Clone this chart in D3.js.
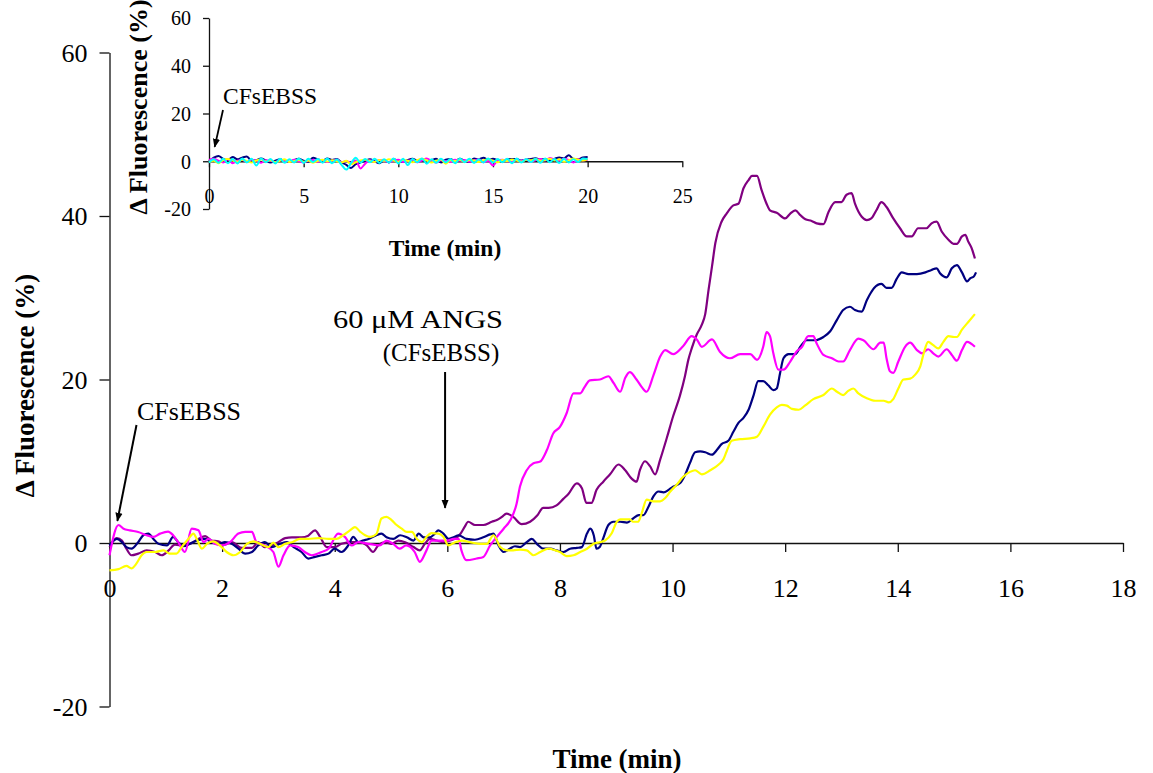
<!DOCTYPE html>
<html>
<head>
<meta charset="utf-8">
<script src="https://cdn.jsdelivr.net/npm/d3@7"></script>
<style>
  html, body { margin: 0; padding: 0; background: #fff; }
  svg { display: block; }
  text { font-family: "Liberation Serif", "Times New Roman", serif; fill: #000; }
</style>
</head>
<body>
<svg id="chart" width="1153" height="773"></svg>
<script>
// ---- Main panel: ΔFluorescence (%) vs time (min), [time, value] readings per trace ----
const purpleTrace = [[0,-0.5],[0.13,0.6],[0.22,0.3],[0.3,-0.7],[0.39,-1.5],[0.51,-1.3],[0.66,-0.9],[0.81,-1.1],[0.93,-1.5],[1.05,-0.9],[1.16,-0.2],[1.31,-0.3],[1.43,-0.1],[1.58,0.5],[1.7,0.85],[1.81,0.3],[1.93,0.2],[2.05,-0.2],[2.17,0.1],[2.35,-0.6],[2.53,-0.6],[2.64,0.1],[2.76,-0.5],[2.88,-0.3],[3.0,0.1],[3.12,0.6],[3.24,0.7],[3.41,0.7],[3.53,0.9],[3.65,1.55],[3.74,0.75],[3.86,-0.5],[4.0,-0.5],[4.12,-0.1],[4.3,0.1],[4.45,0.1],[4.57,-0.3],[4.68,-1.1],[4.77,-0.3],[4.89,0.1],[5.01,-0.1],[5.13,0.3],[5.25,0.1],[5.4,-0.5],[5.51,-0.9],[5.6,-0.1],[5.69,0.5],[5.81,0.3],[5.93,0.1],[6.05,0.3],[6.17,0.7],[6.23,1.1],[6.31,2.0],[6.37,2.6],[6.49,2.2],[6.64,2.2],[6.79,2.6],[6.88,2.8],[6.97,3.2],[7.05,3.6],[7.17,3.2],[7.32,2.3],[7.47,2.6],[7.6,3.4],[7.7,4.3],[7.8,4.3],[7.94,4.6],[8.06,5.4],[8.15,6.0],[8.3,7.3],[8.39,6.7],[8.47,4.9],[8.56,4.9],[8.65,6.5],[8.77,7.5],[8.89,8.4],[9.04,9.6],[9.16,8.9],[9.27,7.9],[9.36,7.5],[9.42,8.9],[9.51,10.0],[9.6,9.4],[9.69,8.4],[9.78,10.2],[9.9,12.9],[10.01,15.5],[10.13,18.0],[10.22,20.4],[10.28,22.4],[10.34,23.8],[10.43,25.5],[10.52,26.7],[10.58,28.0],[10.64,31.0],[10.7,33.8],[10.76,36.7],[10.87,39.3],[10.96,40.3],[11.08,41.3],[11.17,41.5],[11.26,43.4],[11.35,44.4],[11.41,44.9],[11.5,44.9],[11.58,43.2],[11.67,41.5],[11.73,40.7],[11.85,40.4],[12.0,39.7],[12.09,40.3],[12.18,40.7],[12.27,40.1],[12.36,39.6],[12.47,39.4],[12.56,39.1],[12.68,39.0],[12.77,40.5],[12.89,41.7],[13.0,41.7],[13.09,42.6],[13.18,42.8],[13.24,41.5],[13.36,39.9],[13.45,39.5],[13.53,39.7],[13.62,40.7],[13.71,41.7],[13.8,41.1],[13.92,39.7],[14.04,38.5],[14.16,37.5],[14.25,37.5],[14.36,38.5],[14.51,38.5],[14.6,39.1],[14.69,39.3],[14.78,38.1],[14.9,37.1],[14.99,36.6],[15.05,36.6],[15.14,37.5],[15.2,37.7],[15.25,36.9],[15.31,36.1],[15.37,34.8]];

const navyTrace = [[0,-0.3],[0.13,0.5],[0.22,0.1],[0.3,-0.5],[0.39,-0.7],[0.51,0.1],[0.6,0.95],[0.69,1.15],[0.78,0.5],[0.87,-0.1],[1.02,-0.3],[1.13,0.75],[1.22,0.1],[1.31,-0.4],[1.43,-0.1],[1.55,0.3],[1.7,0.5],[1.81,0.1],[1.93,-0.1],[2.05,0.1],[2.17,-0.1],[2.29,-0.7],[2.41,-1.3],[2.53,-1.1],[2.64,-0.3],[2.76,0.1],[2.88,-0.5],[3.03,-0.1],[3.15,0.1],[3.27,-0.5],[3.41,-1.1],[3.53,-1.9],[3.65,-1.7],[3.77,-1.5],[3.89,-1.3],[4.0,-0.7],[4.12,-1.1],[4.24,-0.3],[4.33,0.75],[4.42,0.1],[4.5,0.3],[4.6,0.5],[4.74,0.95],[4.83,1.15],[4.92,0.7],[5.04,0.5],[5.16,0.95],[5.28,0.7],[5.4,0.3],[5.49,1.15],[5.58,0.7],[5.69,0.7],[5.78,1.15],[5.84,1.55],[5.93,1.15],[6.02,0.5],[6.11,0.7],[6.2,0.95],[6.34,0.5],[6.49,0.4],[6.64,0.7],[6.76,1.05],[6.82,1.15],[6.91,-0.3],[7.0,-1.1],[7.11,-0.7],[7.2,-0.4],[7.29,-0.5],[7.41,0.1],[7.5,0.5],[7.59,-0.1],[7.71,-0.7],[7.83,-0.7],[7.94,-0.9],[8.06,-1.1],[8.18,-0.7],[8.3,-0.6],[8.39,-0.5],[8.48,1.15],[8.54,1.75],[8.6,0.95],[8.65,-0.7],[8.71,-0.45],[8.77,0.6],[8.86,2.2],[8.95,2.6],[9.07,2.6],[9.19,2.5],[9.3,3.0],[9.4,3.4],[9.48,3.4],[9.57,4.4],[9.66,5.7],[9.75,6.3],[9.84,6.2],[9.93,6.5],[10.01,6.9],[10.13,7.3],[10.22,8.3],[10.31,9.8],[10.4,11.1],[10.49,11.2],[10.58,11.1],[10.7,10.8],[10.79,11.4],[10.87,12.1],[10.99,12.5],[11.08,13.6],[11.17,14.7],[11.26,15.3],[11.35,16.3],[11.44,18.1],[11.52,19.8],[11.61,19.8],[11.7,19.3],[11.79,18.7],[11.85,18.9],[11.91,20.8],[11.97,22.6],[12.06,23.1],[12.18,23.1],[12.27,24.0],[12.38,24.8],[12.53,24.8],[12.68,25.2],[12.8,25.9],[12.92,27.3],[13.03,28.5],[13.15,28.9],[13.24,28.5],[13.36,28.3],[13.45,29.7],[13.53,30.7],[13.58,31.2],[13.71,31.7],[13.8,31.2],[13.89,31.2],[13.98,32.3],[14.07,33.1],[14.19,32.9],[14.34,32.9],[14.49,33.1],[14.6,33.4],[14.69,33.6],[14.75,33.0],[14.87,32.5],[14.96,33.6],[15.05,34.0],[15.14,33.1],[15.23,32.0],[15.29,32.4],[15.35,32.6],[15.39,33.1]];

const magentaTrace = [[0,-1.5],[0.16,2.2],[0.25,1.75],[0.36,1.55],[0.51,1.35],[0.66,0.95],[0.78,0.75],[0.9,1.15],[1.04,1.4],[1.13,0.95],[1.22,0.1],[1.34,-1.1],[1.46,1.75],[1.58,1.55],[1.67,0.1],[1.76,0.5],[1.87,-0.1],[1.99,-0.3],[2.14,0.1],[2.29,1.15],[2.41,1.35],[2.53,1.35],[2.61,0.1],[2.76,-0.3],[2.91,-1.1],[3.0,-2.9],[3.09,-1.5],[3.21,-0.3],[3.35,-0.5],[3.47,-1.1],[3.59,-1.5],[3.77,-1.1],[3.89,-0.7],[4.06,1.15],[4.18,0.75],[4.3,-0.3],[4.42,0.1],[4.6,-0.1],[4.8,-0.3],[4.92,0.3],[5.04,-0.1],[5.15,-0.7],[5.27,-0.3],[5.42,-1.1],[5.51,-2.3],[5.63,-0.9],[5.72,0.3],[5.87,0.3],[6.0,0.3],[6.11,0.5],[6.2,0.5],[6.25,-0.9],[6.34,-2.1],[6.52,-1.9],[6.64,-1.7],[6.76,-0.3],[6.88,0.75],[7.0,1.75],[7.12,2.8],[7.23,4.8],[7.29,6.9],[7.41,8.9],[7.53,9.75],[7.65,9.96],[7.77,11.4],[7.88,13.4],[8.0,14.2],[8.12,15.9],[8.24,18.3],[8.36,18.3],[8.44,19.1],[8.53,19.9],[8.71,20.0],[8.86,20.4],[8.95,19.6],[9.07,18.5],[9.16,20.2],[9.24,20.9],[9.36,20.0],[9.45,19.1],[9.54,18.5],[9.66,20.5],[9.78,22.8],[9.87,23.6],[10.01,23.1],[10.19,24.1],[10.34,25.3],[10.43,24.9],[10.52,24.0],[10.7,24.9],[10.84,23.4],[11.02,22.6],[11.2,23.1],[11.38,23.1],[11.5,22.4],[11.61,24.0],[11.67,25.8],[11.73,25.3],[11.79,23.2],[11.88,21.2],[11.97,21.2],[12.09,22.2],[12.2,23.4],[12.3,24.0],[12.41,25.3],[12.5,25.3],[12.56,24.4],[12.68,23.0],[12.83,22.6],[12.95,22.2],[13.03,22.2],[13.15,23.6],[13.3,25.0],[13.39,24.8],[13.57,23.7],[13.69,24.5],[13.75,24.5],[13.8,22.6],[13.86,21.0],[13.92,20.8],[14.01,22.2],[14.13,24.0],[14.22,24.5],[14.34,23.6],[14.43,23.2],[14.54,23.7],[14.63,23.2],[14.72,22.8],[14.87,23.7],[14.96,23.0],[15.05,22.3],[15.14,23.6],[15.23,24.6],[15.37,24.0]];

const yellowTrace = [[0,-3.35],[0.16,-3.2],[0.3,-2.8],[0.39,-3.1],[0.48,-2.5],[0.57,-1.5],[0.66,-1.1],[0.81,-1.1],[0.96,-0.9],[1.07,-1.3],[1.19,-1.3],[1.28,-0.5],[1.4,0.5],[1.49,1.15],[1.55,0.5],[1.64,-0.7],[1.73,-0.1],[1.84,0.2],[1.96,-0.3],[2.08,-1.1],[2.2,-1.5],[2.32,-1.1],[2.44,-0.1],[2.56,0.2],[2.67,-0.1],[2.82,-0.5],[2.91,0.05],[3.0,-0.5],[3.12,-0.1],[3.24,0.1],[3.38,0.5],[3.53,0.5],[3.71,0.6],[3.89,0.5],[4.03,0.5],[4.15,0.95],[4.27,1.55],[4.36,1.95],[4.45,1.4],[4.54,0.95],[4.63,0.75],[4.74,1.1],[4.83,3.0],[4.92,3.2],[5.01,2.8],[5.1,2.2],[5.19,1.75],[5.28,1.35],[5.37,1.35],[5.46,0.5],[5.55,0.1],[5.63,0.75],[5.72,1.2],[5.84,1.15],[5.93,0.75],[6.02,-0.3],[6.14,0.1],[6.26,0.3],[6.4,0.1],[6.58,-0.1],[6.7,-0.1],[6.82,0.95],[6.94,-0.5],[7.05,-0.9],[7.17,-0.9],[7.29,-0.8],[7.41,-0.9],[7.53,-1.5],[7.65,-1.1],[7.8,-0.7],[7.92,-0.9],[8.0,-1.1],[8.12,-1.6],[8.24,-1.5],[8.36,-1.1],[8.48,-0.7],[8.6,-0.1],[8.71,0.1],[8.8,0.3],[8.92,1.2],[9.01,2.6],[9.07,2.9],[9.24,2.9],[9.3,2.6],[9.39,2.6],[9.45,3.6],[9.54,5.3],[9.66,5.1],[9.78,5.1],[9.87,5.5],[9.96,6.3],[10.07,7.1],[10.19,8.1],[10.31,8.7],[10.4,8.9],[10.52,8.4],[10.67,8.9],[10.82,9.6],[10.9,10.2],[10.96,11.2],[11.05,12.5],[11.2,12.7],[11.38,12.8],[11.5,13.0],[11.61,14.2],[11.73,15.7],[11.85,16.6],[11.94,16.9],[12.03,16.8],[12.12,16.4],[12.24,16.3],[12.35,16.8],[12.5,17.6],[12.68,18.1],[12.83,18.9],[12.92,18.5],[13.03,18.1],[13.12,18.6],[13.21,18.9],[13.3,18.3],[13.45,17.7],[13.6,17.4],[13.75,17.4],[13.84,17.2],[13.92,17.6],[14.01,18.9],[14.1,20.0],[14.22,20.1],[14.31,20.6],[14.4,21.6],[14.46,23.2],[14.54,24.6],[14.63,24.2],[14.72,23.8],[14.81,24.6],[14.9,25.3],[15.0,25.2],[15.05,25.2],[15.14,26.1],[15.26,27.1],[15.37,28.0]];

const mainTraceList = [purpleTrace, navyTrace, magentaTrace, yellowTrace];
const mainTraceColors = ["#800080", "#000080", "#FF00FF", "#FFFF00"];
const mainXTicks = [0, 2, 4, 6, 8, 10, 12, 14, 16, 18];
const mainYTicks = [-20, 0, 20, 40, 60];

// ---- Inset: control recording, one reading every 0.25 min from 0 to 20 min ----
const insetInterval = 0.25;
const insetNavy = [
  0.0, 1.5, 2.2, 1.0, 0.5, 1.8, 0.8, 1.5, 2.0, 0.2,
  0.5, 1.2, 0.3, -0.5, 0.2, 0.8, 0.0, -0.3, 0.5, 1.0,
  0.2, -0.2, 1.5, 0.8, 0.3, 1.2, 0.5, 0.9, -0.5, -1.5,
  -2.8, -1.2, -0.5, 0.2, 0.8, 0.0, -0.8, 0.3, -0.5, 0.8,
  0.2, -0.3, 0.5, 1.0, 0.3, 0.8, -0.2, 0.4, 1.0, -0.5,
  0.6, 0.9, 0.1, 1.0, 0.2, -0.3, 1.2, 0.8, 1.5, 0.5,
  1.0, 0.4, -0.2, 0.8, 0.9, 0.9, 0.3, 0.6, 1.0, 1.3,
  0.7, 0.9, 0.4, 1.0, 1.6, 1.2, 2.5, 1.0, 0.8, 1.6,
  1.8];
const insetMagenta = [
  0.5, 1.0, 0.2, -0.5, 0.8, -0.8, 0.2, 0.5, -0.3, 0.6,
  0.3, -0.6, 0.4, 0.2, -0.4, 0.5, 0.1, -0.2, 0.6, 0.0,
  -0.5, 0.3, 0.5, -0.2, 0.4, -0.3, 0.2, 0.6, -0.4, 0.1,
  -0.6, 0.3, -3.0, -1.0, 0.4, -0.2, 0.5, 0.2, -0.4, 0.3,
  0.6, -0.3, 0.2, 0.5, -0.4, 0.3, 1.2, 0.2, -0.5, 0.4,
  0.1, -0.3, 0.6, 0.2, 0.5, -0.2, 0.3, 0.8, -0.4, 0.2,
  -1.8, 0.3, 0.6, 0.1, -0.3, 0.5, 0.2, 0.7, -0.2, 0.4,
  0.9, 0.3, 1.4, 0.6, 0.2, 1.0, 0.5, -0.5, 0.8, 0.3,
  0.6];
const insetYellow = [
  -0.3, 0.2, -0.8, 0.5, 0.9, 0.3, -0.2, 0.6, 0.1, -0.5,
  0.3, 0.7, -0.1, 0.4, -0.4, 0.2, 0.8, -0.3, 0.1, 0.5,
  -0.2, 0.3, -0.6, 0.2, 0.6, -0.1, 0.4, 0.0, -0.5, 0.2,
  -1.2, -0.4, 0.3, 0.6, 0.1, -0.3, 0.5, 0.2, 0.8, 0.3,
  -0.2, 0.6, 0.2, -0.4, 0.5, 1.0, 0.3, -0.5, 0.2, 0.7,
  -1.0, 0.4, 0.1, 0.6, -0.2, 0.5, 0.3, -0.3, 0.4, 0.8,
  0.2, -0.4, 0.5, 0.1, 0.7, 0.3, -0.2, 0.6, 0.4, 0.9,
  0.2, 0.5, 1.0, 0.3, 0.8, -0.2, 0.4, 1.1, 0.6, 0.3,
  0.9];
const insetCyan = [
  -0.5, 0.8, -0.6, 1.0, -0.8, 0.9, -0.9, 1.2, -0.5, 1.0,
  -1.8, 1.1, -0.4, 0.9, -0.9, 1.0, -0.6, 0.8, -0.5, 1.2,
  -0.7, 1.0, -0.3, 0.9, -0.6, 1.1, -0.8, 0.7, -1.5, -3.5,
  -0.8, 1.5, -0.6, 0.9, -0.4, 1.0, -0.7, 0.8, -0.5, 1.1,
  -0.9, 1.0, -1.6, 0.9, -0.4, 1.2, -1.0, 0.8, -0.6, 1.0,
  -0.5, 0.9, -0.8, 1.1, -0.4, 1.0, -0.7, 0.8, -0.5, 1.2,
  -0.6, 0.9, -0.4, 1.0, -0.8, 1.1, -0.5, 0.9, -0.3, 1.0,
  -0.6, 1.2, -0.4, 0.9, -0.7, 1.0, -0.5, 0.8, -0.3, 1.1,
  0.9];
const insetSeriesList = [insetNavy, insetMagenta, insetYellow, insetCyan];
const insetColors = ["#000080", "#FF00FF", "#FFFF00", "#00FFFF"];
const insetXTicks = [0, 5, 10, 15, 20, 25];
const insetYTicks = [-20, 0, 20, 40, 60];

const yTitle = "\u0394 Fluorescence (%)";
const xTitle = "Time (min)";

// ---------------------------------------------------------------------------
const svg = d3.select("#chart");
const plainNumber = v => String(v);   // ASCII hyphen for negatives

// arrowhead used by the annotation pointers
svg.append("defs").append("marker")
  .attr("id", "arrowhead")
  .attr("viewBox", "0 0 10 10")
  .attr("refX", 9).attr("refY", 5)
  .attr("markerUnits", "userSpaceOnUse")
  .attr("markerWidth", 9).attr("markerHeight", 9)
  .attr("orient", "auto")
  .append("path").attr("d", "M0,1 L10,5 L0,9 Z").attr("fill", "#000");

function styleAxis(g, fontSize) {
  g.selectAll("path.domain").attr("stroke", "#111").attr("stroke-width", 1.3);
  g.selectAll(".tick line").attr("stroke", "#111").attr("stroke-width", 1.3);
  g.selectAll(".tick text")
    .attr("font-family", "'Liberation Serif','Times New Roman',serif")
    .attr("font-size", fontSize).attr("fill", "#000");
}

// ---- main panel ----
const x = d3.scaleLinear().domain([0, 18]).range([109.5, 1123]);
const y = d3.scaleLinear().domain([-20, 60]).range([706.5, 52.5]);

const yAxisG = svg.append("g")
  .attr("transform", `translate(${x(0)},0)`)
  .call(d3.axisLeft(y).tickValues(mainYTicks).tickFormat(plainNumber)
    .tickSize(10).tickSizeOuter(0).tickPadding(12));
styleAxis(yAxisG, 26);
yAxisG.selectAll(".tick text").attr("dy", "0.34em");

const xAxisG = svg.append("g")
  .attr("transform", `translate(0,${y(0)})`)
  .call(d3.axisBottom(x).tickValues(mainXTicks).tickFormat(plainNumber)
    .tickSize(9).tickSizeOuter(0).tickPadding(27));
styleAxis(xAxisG, 26);

const line = d3.line().x(d => x(d[0])).y(d => y(d[1])).curve(d3.curveMonotoneX);
svg.append("g").selectAll("path").data(mainTraceList).join("path")
  .attr("d", line)
  .attr("fill", "none")
  .attr("stroke", (d, i) => mainTraceColors[i])
  .attr("stroke-width", 2.2)
  .attr("stroke-linejoin", "round");

svg.append("text")
  .attr("transform", `translate(34,${(y(60) + y(-20)) / 2 + 6}) rotate(-90)`)
  .attr("text-anchor", "middle").attr("font-weight", "bold").attr("font-size", 27)
  .text(yTitle);
svg.append("text")
  .attr("x", 617).attr("y", 768)
  .attr("text-anchor", "middle").attr("font-weight", "bold").attr("font-size", 27)
  .text(xTitle);

// annotations on the main panel
svg.append("text").attr("x", 137).attr("y", 420).attr("font-size", 26).text("CFsEBSS");
svg.append("line")
  .attr("x1", 136.5).attr("y1", 425).attr("x2", x(0.14)).attr("y2", y(2.7))
  .attr("stroke", "#000").attr("stroke-width", 2).attr("marker-end", "url(#arrowhead)");

svg.append("text").attr("x", 333).attr("y", 328)
  .attr("font-size", 26).attr("textLength", 170).attr("lengthAdjust", "spacingAndGlyphs")
  .text("60 \u03BCM ANGS");
svg.append("text").attr("x", 441).attr("y", 361).attr("text-anchor", "middle")
  .attr("font-size", 25).text("(CFsEBSS)");
svg.append("line")
  .attr("x1", x(5.96)).attr("y1", 372).attr("x2", x(5.96)).attr("y2", y(4.3))
  .attr("stroke", "#000").attr("stroke-width", 2).attr("marker-end", "url(#arrowhead)");

// ---- inset panel ----
const xi = d3.scaleLinear().domain([0, 25]).range([209, 682.3]);
const yi = d3.scaleLinear().domain([-20, 60]).range([209, 18]);

const yiAxisG = svg.append("g")
  .attr("transform", `translate(${xi(0)},0)`)
  .call(d3.axisLeft(yi).tickValues(insetYTicks).tickFormat(plainNumber)
    .tickSize(6).tickSizeOuter(0).tickPadding(12));
styleAxis(yiAxisG, 20);
yiAxisG.selectAll(".tick text").attr("dy", "0.34em");

const xiAxisG = svg.append("g")
  .attr("transform", `translate(0,${yi(0)})`)
  .call(d3.axisBottom(xi).tickValues(insetXTicks).tickFormat(plainNumber)
    .tickSize(6).tickSizeOuter(0).tickPadding(22));
styleAxis(xiAxisG, 20);

const insetLine = d3.line()
  .x((d, i) => xi(i * insetInterval)).y(d => yi(d))
  .curve(d3.curveMonotoneX);
svg.append("g").selectAll("path").data(insetSeriesList).join("path")
  .attr("d", insetLine)
  .attr("fill", "none")
  .attr("stroke", (d, i) => insetColors[i])
  .attr("stroke-width", 2)
  .attr("stroke-linejoin", "round");

svg.append("text")
  .attr("transform", `translate(147,107) rotate(-90)`)
  .attr("text-anchor", "middle").attr("font-weight", "bold").attr("font-size", 26)
  .text(yTitle);
svg.append("text")
  .attr("x", 445).attr("y", 256)
  .attr("text-anchor", "middle").attr("font-weight", "bold").attr("font-size", 23.5)
  .text(xTitle);

svg.append("text").attr("x", 223).attr("y", 104).attr("font-size", 23.5).text("CFsEBSS");
svg.append("line")
  .attr("x1", 223).attr("y1", 110).attr("x2", xi(0.3)).attr("y2", yi(6))
  .attr("stroke", "#000").attr("stroke-width", 1.8).attr("marker-end", "url(#arrowhead)");
</script>
</body>
</html>
